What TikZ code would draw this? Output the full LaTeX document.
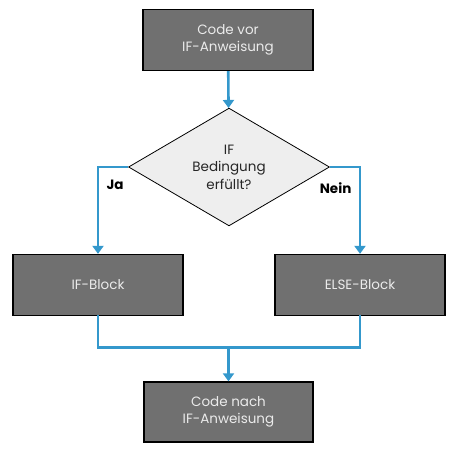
\documentclass[tikz,border=0pt]{standalone}
\usepackage{fontspec}
\setmainfont{Poppins}
\usepackage{tikz}
\usetikzlibrary{shapes.geometric,arrows.meta,positioning}
\definecolor{boxgray}{RGB}{112,112,112}
\definecolor{condgray}{RGB}{238,238,238}
\definecolor{flowblue}{RGB}{52,152,204}

\begin{document}
\begin{tikzpicture}[x=1pt, y=1pt, font=\fontsize{13.5}{17.5}\selectfont,
    block/.style={rectangle, draw=black, line width=1.3pt, fill=boxgray, text=white!92!black, align=center, minimum width=170pt, minimum height=61pt, inner sep=2pt},
    cond/.style={diamond, draw=black, line width=0.8pt, fill=condgray, text=black!85, align=center, minimum width=201pt, minimum height=114pt, inner sep=0pt},
    arrow/.style={-{Triangle[length=8pt, width=11pt]}, draw=flowblue, line width=2.6pt},
    flow/.style={draw=flowblue, line width=2.6pt},
    answer/.style={font=\fontsize{13.5}{15}\selectfont\bfseries}]
    \useasboundingbox (0,0) rectangle (463,448);

    \node[block] (start) at (228,408) {Code vor\\IF-Anweisung};
    \node[cond] (test) at (229,281) {IF\\Bedingung\\erfüllt?};
    \node[block] (ifblock) at (98,163) {IF-Block};
    \node[block] (elseblock) at (360,163) {ELSE-Block};
    \node[block, minimum width=169pt, minimum height=60pt] (end) at (228.5,36) {Code nach\\IF-Anweisung};
    \coordinate[above=34pt of end.north] (merge);

    \draw[arrow] (start) -- (test);
    \draw[arrow] (test.west) -| node[answer, pos=0.6, right=4pt] {Ja} (ifblock.north);
    \draw[arrow] (test.east) -| node[answer, pos=0.62, left=4pt] {Nein} (elseblock.north);
    \draw[flow, line cap=rect] (ifblock.south) |- (merge) -| (elseblock.south);
    \draw[arrow] (merge) -- (end);
\end{tikzpicture}
\end{document}
